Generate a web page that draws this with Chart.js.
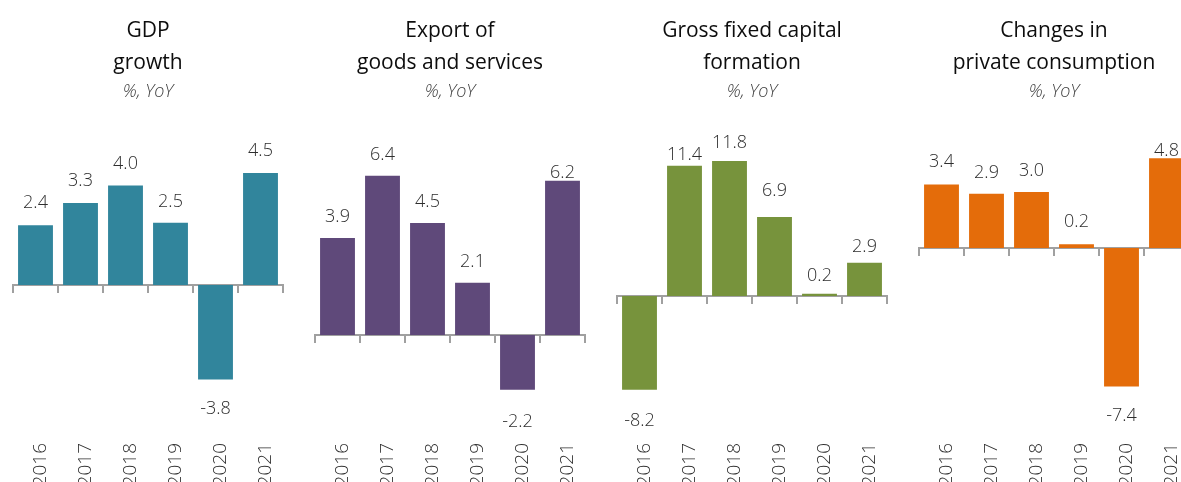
<!DOCTYPE html>
<html>
<head>
<meta charset="utf-8">
<script src="https://cdn.jsdelivr.net/npm/chart.js@4.4.1/dist/chart.umd.min.js"></script>
<style>
  html, body { margin: 0; padding: 0; background: #fff; overflow: hidden; width: 1181px; height: 482px; }
  .panel { position: absolute; top: 0; }
</style>
</head>
<body>
<canvas id="p0" class="panel"></canvas>
<canvas id="p1" class="panel"></canvas>
<canvas id="p2" class="panel"></canvas>
<canvas id="p3" class="panel"></canvas>
<script>
// ---- data ----
const years = ['2016', '2017', '2018', '2019', '2020', '2021'];
const gdpGrowth = [2.4, 3.3, 4.0, 2.5, -3.8, 4.5];
const exportGrowth = [3.9, 6.4, 4.5, 2.1, -2.2, 6.2];
const capitalFormationGrowth = [-8.2, 11.4, 11.8, 6.9, 0.2, 2.9];
const consumptionGrowth = [3.4, 2.9, 3.0, 0.2, -7.4, 4.8];

const panelTitles = [
  ['GDP', 'growth'],
  ['Export of', 'goods and services'],
  ['Gross fixed capital', 'formation'],
  ['Changes in', 'private consumption']
];
const unitLabel = '%, YoY';

// ---- layout / style ----
const seriesList = [gdpGrowth, exportGrowth, capitalFormationGrowth, consumptionGrowth];
const barColors = ['#31859c', '#5f497a', '#77933c', '#e46c0a'];
const yRanges = [[-6.32, 7.04], [-4.30, 9.04], [-12.77, 16.27], [-10.37, 7.38]];
const panelLeft = [3, 305, 607, 909];
// distance in px between the end of each bar and its value label
const labelGaps = [
  [17, 17, 17, 16, 22, 17],
  [16, 16, 16, 16, 24, 3],
  [23, 6, 13, 21, 13, 11],
  [17, 16, 16, 17, 22, 2]
];

const FONT = "'Open Sans', 'Noto Sans', 'DejaVu Sans', sans-serif";
const CANVAS_W = 302, CANVAS_H = 492;
const AXIS_GREY = '#a0a0a0';

// value labels above positive bars / below negative bars
const valueLabels = {
  id: 'valueLabels',
  afterDatasetsDraw(chart, args, opts) {
    const ctx = chart.ctx;
    const meta = chart.getDatasetMeta(0);
    const values = chart.data.datasets[0].data;
    ctx.save();
    ctx.font = opts.font;
    ctx.fillStyle = opts.color;
    ctx.textAlign = 'center';
    ctx.textBaseline = 'alphabetic';
    meta.data.forEach((bar, i) => {
      const v = values[i];
      const gap = opts.gaps[i];
      const y = v >= 0 ? bar.y - gap : bar.y + gap + opts.capHeight;
      ctx.fillText(v.toFixed(1), bar.x, y);
    });
    ctx.restore();
  }
};

seriesList.forEach((values, i) => {
  const canvas = document.getElementById('p' + i);
  canvas.width = CANVAS_W;
  canvas.height = CANVAS_H;
  canvas.style.width = CANVAS_W + 'px';
  canvas.style.height = CANVAS_H + 'px';
  canvas.style.left = panelLeft[i] + 'px';

  new Chart(canvas, {
    type: 'bar',
    data: {
      labels: years,
      datasets: [{
        data: values,
        backgroundColor: barColors[i],
        borderWidth: 0,
        barPercentage: 0.775,
        categoryPercentage: 1,
        xAxisID: 'x',
        yAxisID: 'y'
      }]
    },
    options: {
      responsive: false,
      animation: false,
      devicePixelRatio: 1,
      layout: { padding: { left: 10, right: 22, top: 0, bottom: 0 } },
      plugins: {
        legend: { display: false },
        tooltip: { enabled: false },
        title: {
          display: true,
          text: panelTitles[i],
          color: '#0d0d0d',
          font: { family: FONT, size: 21, weight: 'normal', lineHeight: 32 / 21 },
          padding: { top: 15, bottom: 0 }
        },
        subtitle: {
          display: true,
          text: unitLabel,
          color: '#3f3f3f',
          font: { family: FONT, size: 18, style: 'italic', weight: 300, lineHeight: 24 / 18 },
          padding: { top: 1, bottom: 6 }
        },
        valueLabels: {
          font: '300 18px ' + FONT,
          color: '#2e2e2e',
          capHeight: 13,
          gaps: labelGaps[i]
        }
      },
      scales: {
        x: {
          type: 'category',
          position: 'bottom',
          offset: true,
          grid: { display: false, drawTicks: false },
          border: { display: false },
          ticks: {
            minRotation: 90,
            maxRotation: 90,
            autoSkip: false,
            padding: 1,
            labelOffset: 5,
            color: '#2e2e2e',
            font: { family: FONT, size: 19, weight: 300 }
          },
          afterFit(scale) { scale.height = 50; }
        },
        zero: {
          type: 'category',
          axis: 'x',
          labels: years,
          position: { y: 0 },
          offset: true,
          z: 1,
          grid: {
            offset: true,
            drawOnChartArea: false,
            drawTicks: true,
            tickLength: 7,
            lineWidth: 2,
            color: AXIS_GREY
          },
          border: { display: true, color: AXIS_GREY, width: 2 },
          ticks: { display: false }
        },
        y: {
          display: false,
          min: yRanges[i][0],
          max: yRanges[i][1]
        }
      }
    },
    plugins: [valueLabels]
  });
});
</script>
</body>
</html>
